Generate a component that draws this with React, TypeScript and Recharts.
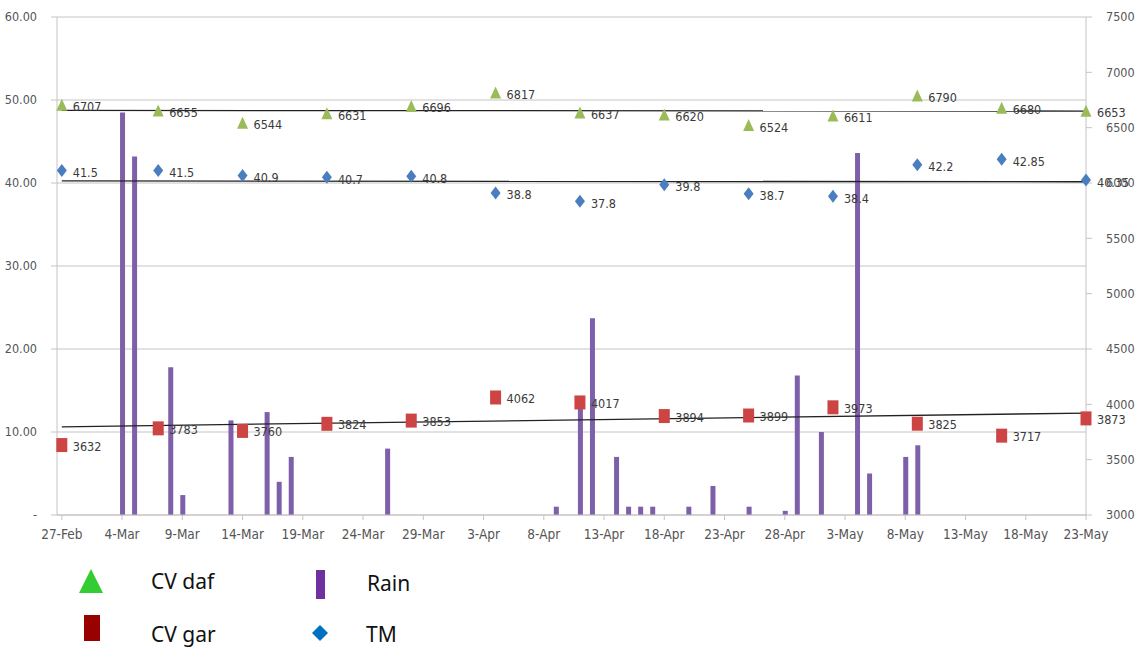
import { ComposedChart, Bar, Scatter, Line, XAxis, YAxis, CartesianGrid } from "recharts";

// x axis: days counted from 27-Feb, a tick every 5 days
const tickLabels = [
  "27-Feb", "4-Mar", "9-Mar", "14-Mar", "19-Mar", "24-Mar", "29-Mar", "3-Apr", "8-Apr",
  "13-Apr", "18-Apr", "23-Apr", "28-Apr", "3-May", "8-May", "13-May", "18-May", "23-May",
];
const tickDays = [0, 5, 10, 15, 20, 25, 30, 35, 40, 45, 50, 55, 60, 65, 70, 75, 80, 85];

// daily rain (left axis)
const rainDays = [5, 6, 9, 10, 14, 17, 18, 19, 27, 41, 43, 44, 46, 47, 48, 49, 52, 54, 57, 60, 61, 63, 66, 67, 70, 71];
const rainValues = [48.5, 43.2, 17.8, 2.4, 11.4, 12.4, 4, 7, 8, 1, 13, 23.7, 7, 1, 1, 1, 1, 3.5, 1, 0.5, 16.8, 10, 43.6, 5, 7, 8.4];

// weekly samples
const sampleDays = [0, 8, 15, 22, 29, 36, 43, 50, 57, 64, 71, 78, 85];
const cvDaf = [6707, 6655, 6544, 6631, 6696, 6817, 6637, 6620, 6524, 6611, 6790, 6680, 6653];
const cvGar = [3632, 3783, 3760, 3824, 3853, 4062, 4017, 3894, 3899, 3973, 3825, 3717, 3873];
const tm = [41.5, 41.5, 40.9, 40.7, 40.8, 38.8, 37.8, 39.8, 38.7, 38.4, 42.2, 42.85, 40.35];

// trendline ends (first day, last day)
const trendDays = [0, 85];
const dafTrend = [6656, 6650];
const garTrend = [3797, 3921];
const tmTrend = [40.25, 40.15];

const leftTicks = [0, 10, 20, 30, 40, 50, 60];
const rightTicks = [3000, 3500, 4000, 4500, 5000, 5500, 6000, 6500, 7000, 7500];

const narrow = "'DejaVu Sans Condensed', 'Liberation Sans', sans-serif";
const grid = "#c4c4c4";

const rainData = rainDays.map((d, i) => ({ day: d, rain: rainValues[i] }));
const points = (vals: number[]) => sampleDays.map((d, i) => ({ day: d, v: vals[i] }));
const trend = (vals: number[]) => trendDays.map((d, i) => ({ day: d, v: vals[i] }));

const Label = ({ x, y, text }: any) => (
  <text x={x} y={y} fontSize={12.5} fontFamily={narrow} fill="#3a3a3a" dominantBaseline="middle">
    {text}
  </text>
);

const Tri = (p: any) => (
  <g>
    <polygon points={`${p.cx},${p.cy - 6} ${p.cx + 5.5},${p.cy + 6} ${p.cx - 5.5},${p.cy + 6}`} fill="#9bbb59" />
    <Label x={p.cx + 11} y={p.cy + 3} text={p.payload.v} />
  </g>
);

const Sq = (p: any) => (
  <g>
    <rect x={p.cx - 5.5} y={p.cy - 7} width={11} height={14} fill="#cc4444" />
    <Label x={p.cx + 11} y={p.cy + 2} text={p.payload.v} />
  </g>
);

const Dia = (p: any) => (
  <g>
    <polygon points={`${p.cx},${p.cy - 6.5} ${p.cx + 5},${p.cy} ${p.cx},${p.cy + 6.5} ${p.cx - 5},${p.cy}`} fill="#4a7ebf" />
    <Label x={p.cx + 11} y={p.cy + 3} text={p.payload.v} />
  </g>
);

const leftFmt = (v: number) => (v === 0 ? "-" : v.toFixed(2));
const dateFmt = (v: number) => tickLabels[tickDays.indexOf(v)] ?? "";
const tickStyle = { fill: "#555", fontSize: 12.5, fontFamily: narrow };

const Legend = () => (
  <svg width={1144} height={110} style={{ position: "absolute", left: 0, top: 545 }}>
    <g fontFamily="'Noto Sans', 'Open Sans', sans-serif" fontSize={21} fill="#111">
      <polygon points="91,24 103,48 79,48" fill="#33cc33" />
      <text x={151} y={38} dominantBaseline="middle">CV daf</text>
      <rect x={316} y={25} width={9} height={29} fill="#7030a0" />
      <text x={367} y={40} dominantBaseline="middle">Rain</text>
      <rect x={84} y={70} width={16} height={26} fill="#990000" />
      <text x={151} y={91} dominantBaseline="middle">CV gar</text>
      <polygon points="320,80 328,88 320,96 312,88" fill="#0070c0" />
      <text x={366} y={91} dominantBaseline="middle">TM</text>
    </g>
  </svg>
);

export default function App() {
  return (
    <div style={{ position: "absolute", left: 0, top: 0, width: 1144, height: 649, background: "#fff" }}>
      <ComposedChart width={1144} height={545} data={rainData} margin={{ top: 17, right: 0, bottom: 0, left: 0 }}>
        <CartesianGrid yAxisId="left" vertical={false} stroke={grid} />
        <XAxis
          dataKey="day"
          type="number"
          domain={[-0.4, 85]}
          ticks={tickDays}
          tickFormatter={dateFmt}
          interval={0}
          height={30}
          tickSize={5}
          tickMargin={9}
          stroke={grid}
          tick={{ ...tickStyle, fontSize: 13.5 }}
        />
        <YAxis
          yAxisId="left"
          domain={[0, 60]}
          ticks={leftTicks}
          tickFormatter={leftFmt}
          width={57}
          tickSize={6}
          tickMargin={14}
          stroke={grid}
          tick={tickStyle}
        />
        <YAxis
          yAxisId="right"
          orientation="right"
          domain={[3000, 7500]}
          ticks={rightTicks}
          width={58}
          tickSize={6}
          tickMargin={14}
          stroke={grid}
          tick={tickStyle}
        />
        <Bar yAxisId="left" dataKey="rain" fill="#7e5fa9" barSize={5} isAnimationActive={false} />
        <Scatter yAxisId="right" data={points(cvDaf)} dataKey="v" shape={Tri} isAnimationActive={false} />
        <Scatter yAxisId="right" data={points(cvGar)} dataKey="v" shape={Sq} isAnimationActive={false} />
        <Scatter yAxisId="left" data={points(tm)} dataKey="v" shape={Dia} isAnimationActive={false} />
        <Line yAxisId="right" data={trend(dafTrend)} dataKey="v" stroke="#222" strokeWidth={1.3} dot={false} isAnimationActive={false} />
        <Line yAxisId="right" data={trend(garTrend)} dataKey="v" stroke="#222" strokeWidth={1.3} dot={false} isAnimationActive={false} />
        <Line yAxisId="left" data={trend(tmTrend)} dataKey="v" stroke="#222" strokeWidth={1.3} dot={false} isAnimationActive={false} />
      </ComposedChart>
      <Legend />
    </div>
  );
}
